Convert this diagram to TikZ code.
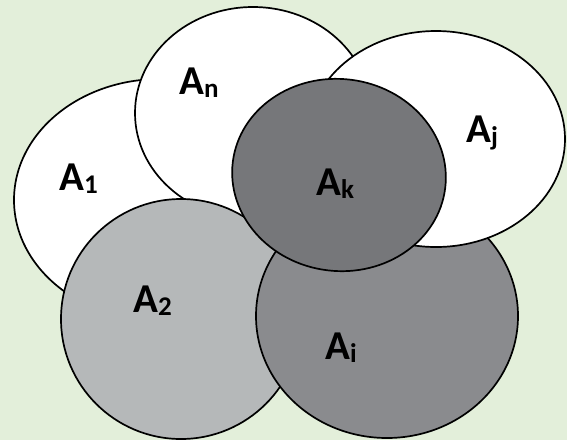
\documentclass[tikz,border=0pt]{standalone}
\usepackage{fontspec}
\setmainfont{Carlito}
\usetikzlibrary{shapes.geometric}
\definecolor{bg}{HTML}{E3EFDA}
\definecolor{gLight}{HTML}{B5B8B9}
\definecolor{gMid}{HTML}{8A8B8E}
\definecolor{gDark}{HTML}{76777A}
\tikzset{
  setblob/.style={ellipse, draw=black, line width=1.7pt, inner sep=0pt, outer sep=0pt},
  setlabel/.style={anchor=base west, inner sep=0pt, font=\bfseries}
}
\newcommand{\setname}[1]{{\fontsize{41}{41}\selectfont A}\raisebox{-3.5pt}{\fontsize{27}{27}\selectfont #1}}
\begin{document}
\begin{tikzpicture}[x=1pt,y=-1pt]
\fill[bg] (0,0) rectangle (567,440);
\useasboundingbox (0,0) rectangle (567,440);
\node[setblob, fill=white, minimum width=292pt, minimum height=242pt] (S1) at (160,200) {};
\node[setblob, fill=white, minimum width=236pt, minimum height=212pt] (Sn) at (253,113) {};
\node[setblob, fill=gLight, minimum width=240pt, minimum height=240pt] (S2) at (181,319) {};
\node[setblob, fill=gMid, minimum width=262pt, minimum height=244pt] (Si) at (387,316) {};
\node[setblob, fill=white, minimum width=258pt, minimum height=216pt] (Sj) at (436,139) {};
\node[setblob, fill=gDark, minimum width=214pt, minimum height=192pt, rotate=-7] (Sk) at (339,175) {};
\node[setlabel] (L1) at (59,190) {\setname{1}};
\node[setlabel] (Ln) at (179,94) {\setname{n}};
\node[setlabel] (Lj) at (466,142) {\setname{j}};
\node[setlabel] (Lk) at (316,195) {\setname{k}};
\node[setlabel] (L2) at (133,312) {\setname{2}};
\node[setlabel] (Li) at (325,359) {\setname{i}};
\end{tikzpicture}
\end{document}
